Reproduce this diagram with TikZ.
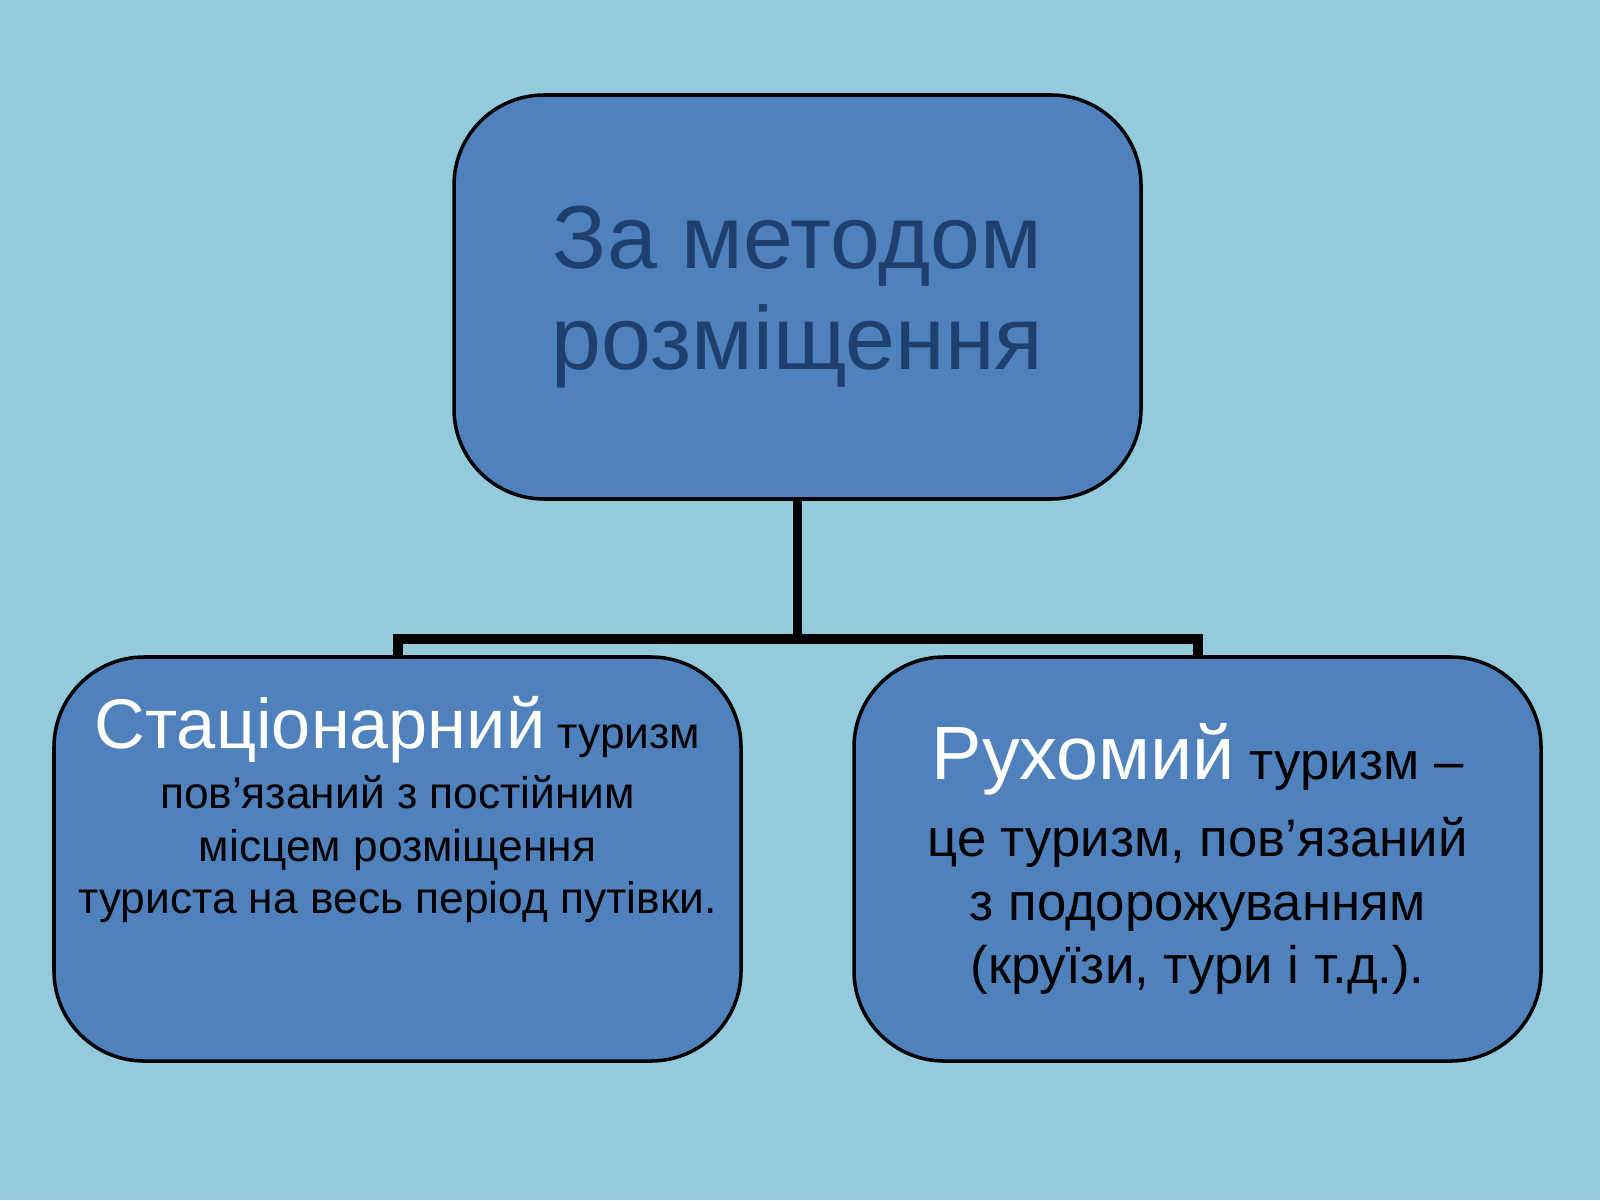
\documentclass[tikz,border=0pt]{standalone}
\usepackage{fontspec}
\setmainfont[Ligatures=NoCommon]{Liberation Sans}
\definecolor{slidebg}{HTML}{94CBDC}
\definecolor{boxblue}{HTML}{4F81BD}
\definecolor{titleblue}{HTML}{1F3F6F}
\newcommand{\apos}{{\char"0027}}
\tikzset{
  topicbox/.style={draw=black, line width=1pt, fill=boxblue, rounded corners=0.9cm,
    minimum width=6.87cm, minimum height=4.04cm, align=center, inner sep=0pt},
  tree/.style={line width=2.6pt, draw=black}
}
\begin{document}
\begin{tikzpicture}
  \fill[slidebg] (0,0) rectangle (16,12);
  \useasboundingbox (0,0) rectangle (16,12);
  \node[topicbox, text=titleblue, font=\fontsize{25.5}{29}\selectfont] (top) at (7.975, 9.03) {За методом\\ розміщення};
  \node[topicbox, font=\fontsize{12.6}{15}\selectfont] (left) at (3.975, 3.41)
    {{\color{white}\fontsize{20}{15}\selectfont Стаціонарний} туризм\\[2pt]
     пов\apos язаний з постійним\\ місцем розміщення\\ туриста на весь період путівки.\\[0.55cm]};
  \node[topicbox, font=\fontsize{15}{18}\selectfont] (right) at (11.975, 3.41)
    {{\color{white}\fontsize{21.5}{18}\selectfont Рухомий} туризм –\\[4pt]
     це туризм, пов\apos язаний\\ з подорожуванням\\ (круїзи, тури і т.д.).};
  \coordinate (split) at (top.south |- 0,5.61);
  \draw[tree] (top.south) -- (split);
  \draw[tree] (left.north -| 3.98,0) |- (split) -| (right.north -| 11.98,0);
\end{tikzpicture}
\end{document}
